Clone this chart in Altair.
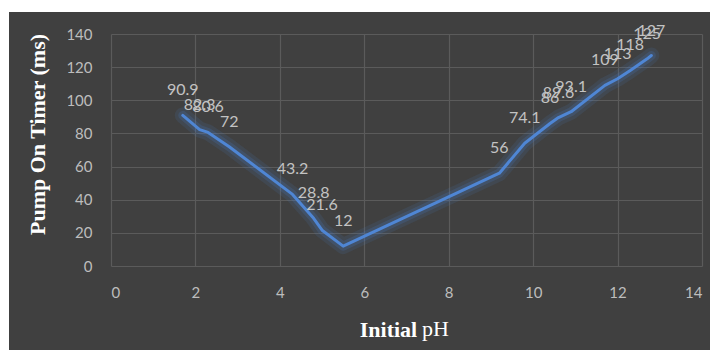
import altair as alt
import pandas as pd

ph = [1.7, 2.1, 2.3, 2.8, 4.3, 4.8, 5.0, 5.5, 9.2, 9.8, 10.4, 10.6, 10.9, 11.7, 12.0, 12.3, 12.7, 12.8]
timer = [90.9, 82.3, 80.6, 72, 43.2, 28.8, 21.6, 12, 56, 74.1, 86, 89.6, 93.1, 109, 113, 118, 125, 127]
labels = ["90.9", "82.3", "80.6", "72", "43.2", "28.8", "21.6", "12", "56", "74.1", "86", "89.6", "93.1", "109", "113", "118", "125", "127"]

df = pd.DataFrame({"ph": ph, "t": timer, "lab": labels})

x = alt.X("ph:Q", scale=alt.Scale(domain=[0, 14], nice=False),
          axis=alt.Axis(values=list(range(0, 15, 2)), title="Initial",
                        titleX=277, titleY=70, titleAlign="center", titleBaseline="alphabetic"))
y = alt.Y("t:Q", scale=alt.Scale(domain=[0, 140], nice=False),
          axis=alt.Axis(values=list(range(0, 141, 20)), title="Pump On Timer (ms)",
                        titleX=-74, titleY=100, titleAngle=-90,
                        titleAlign="center", titleBaseline="middle"))

base = alt.Chart(df)
glow1 = base.mark_line(color="#4a80d0", strokeWidth=16, opacity=0.12, strokeCap="round", strokeJoin="round").encode(x=x, y=y)
glow2 = base.mark_line(color="#4a80d0", strokeWidth=9, opacity=0.18, strokeCap="round", strokeJoin="round").encode(x=x, y=y)
line = base.mark_line(color="#4f86d4", strokeWidth=3, strokeCap="round", strokeJoin="round").encode(x=x, y=y)
text = base.mark_text(color="#c3c3c3", font="Lato", fontSize=16, dy=-20, baseline="alphabetic", align="center").encode(
    x=x, y=y, text="lab:N")

one = alt.Data(values=[{"a": 1}])
# non-bold "pH" part of the x-axis title
ph_title = alt.Chart(one).mark_text(text="pH", font="Liberation Serif", fontSize=22, color="white",
                                    align="left", baseline="alphabetic", clip=False).encode(
    x=alt.value(311), y=alt.value(302))

# white frame strips around the dark chart area (decoration)
left_strip = alt.Chart(one).mark_rule(color="white", strokeWidth=9, clip=False).encode(
    x=alt.value(-106.5), y=alt.value(-40), y2=alt.value(330))
top_strip = alt.Chart(one).mark_rule(color="white", strokeWidth=12, clip=False).encode(
    y=alt.value(-28), x=alt.value(-115), x2=alt.value(620))
right_strip = alt.Chart(one).mark_rule(color="white", strokeWidth=11, clip=False).encode(
    x=alt.value(604.5), y=alt.value(-40), y2=alt.value(330))

chart = alt.layer(glow1, glow2, line, text, ph_title, left_strip, top_strip, right_strip).properties(
    width=591, height=232,
    autosize=alt.AutoSizeParams(type="none"),
    padding={"left": 111, "top": 34, "right": 19, "bottom": 84},
    background="#404040",
).configure_view(stroke=None).configure_axis(
    domain=False, ticks=False,
    grid=True, gridColor="#5b5b5b", gridWidth=1.2,
    labelFont="Lato", labelFontSize=15, labelColor="#bdbdbd",
    titleFont="Liberation Serif", titleFontSize=22, titleFontWeight="bold", titleColor="#ffffff",
).configure_axisX(labelPadding=19).configure_axisY(labelPadding=19)

chart.save("out.html", embed_options={"renderer": "svg", "actions": False})
